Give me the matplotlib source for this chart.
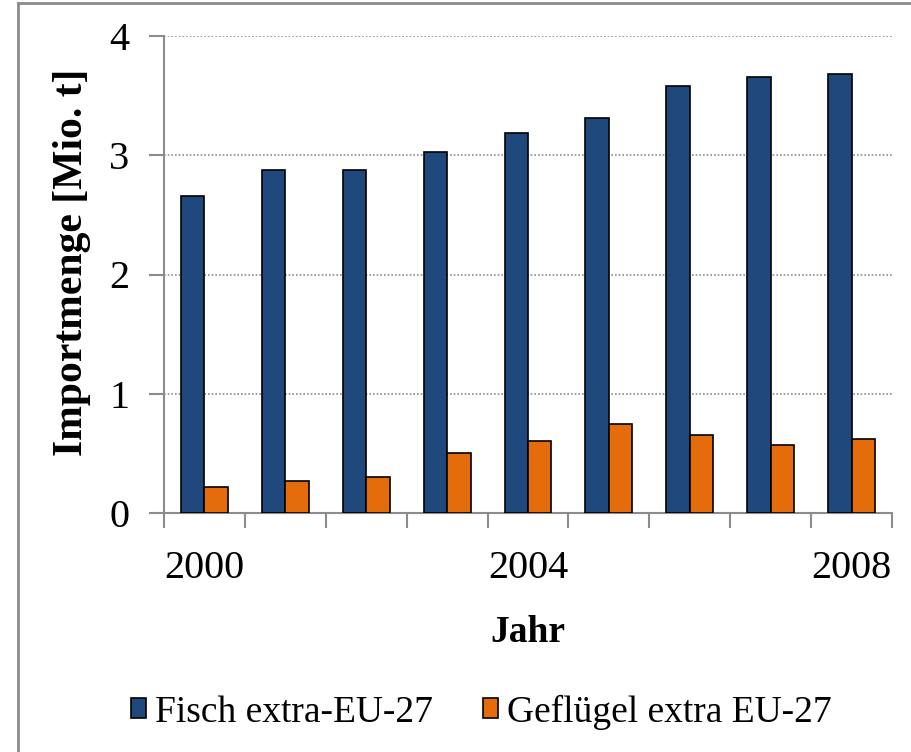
import matplotlib

matplotlib.use("Agg")
import matplotlib.pyplot as plt
import numpy as np
from matplotlib.lines import Line2D
from matplotlib.patches import Patch

plt.rcParams["font.family"] = ["Liberation Serif", "DejaVu Serif"]

# ---------------------------------------------------------------------------
# Data
# ---------------------------------------------------------------------------
years = [2000, 2001, 2002, 2003, 2004, 2005, 2006, 2007, 2008]
fisch = [2.66, 2.88, 2.88, 3.03, 3.19, 3.31, 3.58, 3.66, 3.68]
gefluegel = [0.22, 0.27, 0.30, 0.50, 0.60, 0.75, 0.65, 0.57, 0.62]
series_labels = ["Fisch extra-EU-27", "Geflügel extra EU-27"]
y_ticks = [0, 1, 2, 3, 4]
shown_years = [2000, 2004, 2008]

BLUE = "#1F497D"
ORANGE = "#E46C0A"
GRID = "#8C8C8C"

fig = plt.figure(figsize=(9.12, 7.52), dpi=100)
ax = fig.add_axes([164 / 912, 1 - 513 / 752, (892 - 164) / 912, (513 - 36) / 752])

x = np.arange(len(years))
w = 0.29
ax.bar(x - w / 2, fisch, width=w, color=BLUE, edgecolor="black", linewidth=1.2,
       label=series_labels[0], zorder=3)
ax.bar(x + w / 2, gefluegel, width=w, color=ORANGE, edgecolor="black", linewidth=1.2,
       label=series_labels[1], zorder=3)

ax.set_xlim(-0.5, len(years) - 0.5)
ax.set_ylim(0, 4)
ax.set_yticks(y_ticks)
ax.set_yticklabels([str(t) for t in y_ticks], fontsize=29)

# category ticks sit between the groups, labels only on some years
ax.set_xticks(np.arange(len(years) + 1) - 0.5)
ax.set_xticklabels([])
ax.set_xticks([years.index(y) for y in shown_years], minor=True)
ax.set_xticklabels([str(y) for y in shown_years], minor=True, fontsize=29)
ax.tick_params(axis="x", which="minor", length=0, pad=27)
ax.tick_params(axis="x", which="major", length=11, width=1.5, color=GRID, direction="out")
ax.tick_params(axis="y", length=11, width=1.5, color=GRID, direction="out", pad=14)

ax.grid(True, axis="y", linestyle=(0, (1, 1.2)), color=GRID, linewidth=1.2, zorder=0)
for side in ["top", "right"]:
    ax.spines[side].set_visible(False)
for side in ["left", "bottom"]:
    ax.spines[side].set_color(GRID)
    ax.spines[side].set_linewidth(1.5)

ax.set_xlabel("Jahr", fontsize=27, fontweight="bold", labelpad=20)
ax.set_ylabel("Importmenge [Mio. t]", fontsize=30, fontweight="bold")
ax.yaxis.set_label_coords(-0.10, 0.526)

handles = [Patch(facecolor=BLUE, edgecolor="black", linewidth=1.2),
           Patch(facecolor=ORANGE, edgecolor="black", linewidth=1.2)]
fig.legend(handles, series_labels, loc="center", bbox_to_anchor=(481 / 912, 1 - 712 / 752),
           ncol=2, frameon=False, fontsize=27, handlelength=0.4, handleheight=0.45,
           handletextpad=0.24, columnspacing=1.33)

# outer chart frame (left and top edges visible)
fig.add_artist(Line2D([18 / 912, 18 / 912], [0, 1 - 3 / 752], transform=fig.transFigure,
                      color="#8C8C8C", linewidth=2))
fig.add_artist(Line2D([18 / 912, 1], [1 - 3 / 752, 1 - 3 / 752], transform=fig.transFigure,
                      color="#8C8C8C", linewidth=2))

fig.savefig("out.png", dpi=100)
